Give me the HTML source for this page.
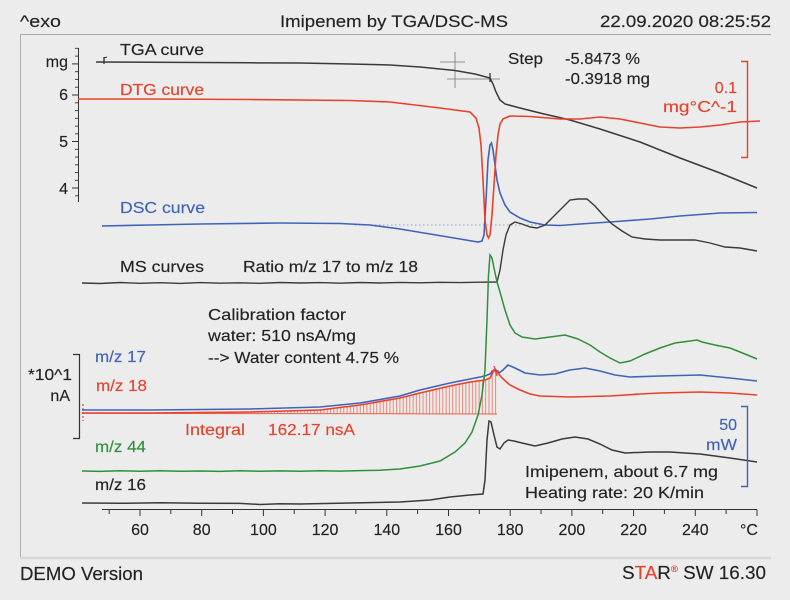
<!DOCTYPE html>
<html>
<head>
<meta charset="utf-8">
<style>
html,body{margin:0;padding:0;background:#ececec;}
svg{display:block;}
text{font-family:"Liberation Sans",Arial,sans-serif;fill:#222;stroke:#222;stroke-width:0.15px;}
</style>
</head>
<body>
<svg width="790" height="600" viewBox="0 0 790 600" xmlns="http://www.w3.org/2000/svg">
<defs>
<pattern id="hatch" patternUnits="userSpaceOnUse" width="3.3" height="20">
<line x1="0.6" y1="0" x2="0.6" y2="20" stroke="#e8604a" stroke-width="0.9" opacity="0.8"/>
</pattern>
</defs>
<rect width="790" height="600" fill="#ececec"/>

<!-- frame -->
<line x1="20" y1="34.5" x2="771" y2="34.5" stroke="#a6a6a6" stroke-width="1"/>
<line x1="20.5" y1="34" x2="20.5" y2="558" stroke="#b0b0b0" stroke-width="1"/>
<line x1="20" y1="558" x2="771" y2="558" stroke="#d6d6d6" stroke-width="2.5"/>

<!-- header -->
<text x="20" y="27" font-size="17" textLength="41" lengthAdjust="spacingAndGlyphs">^exo</text>
<text x="280" y="27" font-size="17" textLength="228" lengthAdjust="spacingAndGlyphs">Imipenem by TGA/DSC-MS</text>
<text x="600" y="27" font-size="17" textLength="171" lengthAdjust="spacingAndGlyphs">22.09.2020 08:25:52</text>

<!-- left mg axis -->
<g stroke="#333" stroke-width="1" fill="none">
<line x1="78.5" y1="48" x2="78.5" y2="202"/>
<line x1="72" y1="95" x2="78.5" y2="95"/>
<line x1="72" y1="141.5" x2="78.5" y2="141.5"/>
<line x1="72" y1="188" x2="78.5" y2="188"/>
<line x1="72" y1="63.9" x2="78.5" y2="63.9"/>
<g stroke-width="0.9">
<line x1="75" y1="48.3" x2="78.5" y2="48.3"/>
<line x1="75" y1="56.1" x2="78.5" y2="56.1"/>
<line x1="75" y1="71.7" x2="78.5" y2="71.7"/>
<line x1="75" y1="79.4" x2="78.5" y2="79.4"/>
<line x1="75" y1="87.2" x2="78.5" y2="87.2"/>
<line x1="75" y1="102.8" x2="78.5" y2="102.8"/>
<line x1="75" y1="110.6" x2="78.5" y2="110.6"/>
<line x1="75" y1="118.3" x2="78.5" y2="118.3"/>
<line x1="75" y1="126.1" x2="78.5" y2="126.1"/>
<line x1="75" y1="133.8" x2="78.5" y2="133.8"/>
<line x1="75" y1="149.3" x2="78.5" y2="149.3"/>
<line x1="75" y1="157.1" x2="78.5" y2="157.1"/>
<line x1="75" y1="164.8" x2="78.5" y2="164.8"/>
<line x1="75" y1="172.6" x2="78.5" y2="172.6"/>
<line x1="75" y1="180.3" x2="78.5" y2="180.3"/>
<line x1="75" y1="195.8" x2="78.5" y2="195.8"/>
</g>
</g>
<text x="68" y="67" font-size="16" text-anchor="end">mg</text>
<text x="68" y="100" font-size="16" text-anchor="end">6</text>
<text x="68" y="147" font-size="16" text-anchor="end">5</text>
<text x="68" y="194" font-size="16" text-anchor="end">4</text>

<!-- labels top -->
<text x="120" y="55" font-size="16" textLength="84" lengthAdjust="spacingAndGlyphs">TGA curve</text>
<text x="120" y="95" font-size="16" textLength="84" lengthAdjust="spacingAndGlyphs" style="fill:#e8412c;stroke:#e8412c">DTG curve</text>
<text x="508" y="64" font-size="16" textLength="35" lengthAdjust="spacingAndGlyphs">Step</text>
<text x="565" y="64" font-size="16" textLength="75" lengthAdjust="spacingAndGlyphs">-5.8473 %</text>
<text x="565" y="84" font-size="16" textLength="85" lengthAdjust="spacingAndGlyphs">-0.3918 mg</text>
<text x="737" y="93" font-size="16" text-anchor="end" style="fill:#e8412c;stroke:#e8412c">0.1</text>
<text x="663" y="112" font-size="16" textLength="74" lengthAdjust="spacingAndGlyphs" style="fill:#e8412c;stroke:#e8412c">mg°C^-1</text>

<!-- red scale bracket -->
<path d="M741,61.5 H747.5 V157.5 H741" stroke="#e8412c" stroke-width="1.4" fill="none"/>

<!-- TGA crosshairs -->
<g stroke="#555" stroke-width="0.8" fill="none" opacity="0.8">
<line x1="455" y1="52" x2="455" y2="88"/>
<line x1="440" y1="62" x2="465" y2="62"/>
<line x1="447" y1="79" x2="500" y2="79"/>
</g>

<!-- TGA curve -->
<polyline fill="none" stroke="#3a3a3a" stroke-width="1.5" points="96,62 150,62.3 200,62.5 250,62.8 300,63 350,64 390,65 420,67 455,70.5 475,74 490,78 493,84 496,92 500,100 505,104 520,108 540,113 570,120 600,129 640,142 680,158 720,173 757,188"/>
<line x1="104" y1="57" x2="104" y2="64" stroke="#333" stroke-width="1.3"/>
<line x1="104" y1="58" x2="107" y2="57" stroke="#333" stroke-width="1"/>
<line x1="490" y1="73" x2="490" y2="82" stroke="#333" stroke-width="1.3"/>

<!-- DSC baseline dotted -->
<line x1="355" y1="225" x2="560" y2="225" stroke="#8a9fd6" stroke-width="1" stroke-dasharray="1.5,2.5"/>

<!-- DSC blue -->
<polyline fill="none" stroke="#4062b8" stroke-width="1.6" points="102,226 150,225 200,224 280,223 340,223.5 370,225 400,229 430,234 460,239 478,242 482,241 484,235 486,200 488,160 490,145 491.5,143 493,150 495,165 497,180 500,193 505,205 510,212 520,218 530,222 545,225 560,225.5 580,224 610,222 650,219 680,216 720,213 757,212.5"/>

<!-- DTG red -->
<polyline fill="none" stroke="#e8412c" stroke-width="1.6" points="78,99 150,99 250,99.5 350,100.5 390,102 440,108 470,112 476,118 479,128 481,145 483,180 485,220 487,235 488.5,238 490,235 492,215 494,185 496,155 498,135 500,124 503,119 510,116 530,116.5 560,119 580,119 600,117 620,119 640,123 660,127 680,128 700,127 720,125 740,122 760,121"/>

<text x="120" y="213" font-size="16" textLength="85" lengthAdjust="spacingAndGlyphs" style="fill:#4062b8;stroke:#4062b8">DSC curve</text>
<text x="120" y="272" font-size="16" textLength="84" lengthAdjust="spacingAndGlyphs">MS curves</text>
<text x="243" y="272" font-size="16" textLength="175" lengthAdjust="spacingAndGlyphs">Ratio m/z 17 to m/z 18</text>

<!-- MS ratio black -->
<polyline fill="none" stroke="#3a3a3a" stroke-width="1.4" points="82,283 100,283.5 120,282.5 140,283.3 160,282.7 180,283.4 200,282.6 220,283.2 240,282.8 260,283.3 280,282.5 300,283 320,282.6 340,283.2 360,282.5 380,283 400,282.4 420,282.8 440,282.3 460,282.6 480,282.2 497,282 500,270 503,250 506,235 510,225 515,222 522,224 530,227 537,228 545,225 555,215 563,207 570,200 578,199 587,199 595,206 603,215 612,224 622,231 632,237 645,239 660,240 680,240 695,240 710,243 725,247 740,248 757,251"/>

<!-- calibration text -->
<text x="208" y="320" font-size="16" textLength="138" lengthAdjust="spacingAndGlyphs">Calibration factor</text>
<text x="208" y="341" font-size="16" textLength="148" lengthAdjust="spacingAndGlyphs">water: 510 nsA/mg</text>
<text x="208" y="363" font-size="16" textLength="191" lengthAdjust="spacingAndGlyphs">--&gt; Water content 4.75 %</text>

<!-- MS left bracket -->
<path d="M73,354.5 H79.5 V438.5 H73" stroke="#333" stroke-width="1.2" fill="none"/>
<text x="72" y="380" font-size="16" text-anchor="end" textLength="44" lengthAdjust="spacingAndGlyphs">*10^1</text>
<text x="70" y="401" font-size="16" text-anchor="end">nA</text>

<text x="95" y="362" font-size="16" textLength="51" lengthAdjust="spacingAndGlyphs" style="fill:#4062b8;stroke:#4062b8">m/z 17</text>
<text x="96" y="391" font-size="16" textLength="51" lengthAdjust="spacingAndGlyphs" style="fill:#e8412c;stroke:#e8412c">m/z 18</text>
<text x="185" y="435" font-size="16" textLength="60" lengthAdjust="spacingAndGlyphs" style="fill:#e8412c;stroke:#e8412c">Integral</text>
<text x="268" y="435" font-size="16" textLength="87" lengthAdjust="spacingAndGlyphs" style="fill:#e8412c;stroke:#e8412c">162.17 nsA</text>
<text x="95" y="452" font-size="16" textLength="51" lengthAdjust="spacingAndGlyphs" style="fill:#2f8f3c;stroke:#2f8f3c">m/z 44</text>
<text x="95" y="490" font-size="16" textLength="51" lengthAdjust="spacingAndGlyphs">m/z 16</text>

<!-- integral hatch -->
<polygon fill="url(#hatch)" stroke="none" points="82,413 150,413 250,412 320,410 360,405 400,398 420,393 450,386 470,382 485,380 490,378 494,370 497,372 497,414 82,413"/>
<line x1="82" y1="413.3" x2="497" y2="414" stroke="#e8604a" stroke-width="1"/>
<line x1="83" y1="404" x2="83" y2="421" stroke="#e8412c" stroke-width="1.2" stroke-dasharray="2,2"/>

<!-- m/z 17 blue -->
<polyline fill="none" stroke="#4062b8" stroke-width="1.6" points="82,410 150,410 250,409 320,407 360,403 400,396 420,390 450,383 470,379 485,376 490,374 495,369 499,373 503,370 508,365 515,368 525,373 540,375 555,374 570,370 585,368 600,371 615,375 630,377 660,376 700,375 730,378 757,381"/>

<!-- m/z 18 red -->
<polyline fill="none" stroke="#e8412c" stroke-width="1.6" points="82,413 150,413 250,412 320,410 360,405 400,398 420,393 450,386 470,382 485,380 490,378 494,370 497,372 502,378 510,385 520,390 530,394 540,396 570,397 610,396 640,394 660,393 700,392 730,393 757,395"/>
<path d="M494,366 L497,376 M491,371 L499,371" stroke="#e8412c" stroke-width="1.3" fill="none"/>

<!-- m/z 44 green -->
<polyline fill="none" stroke="#2f8f3c" stroke-width="1.5" points="82,471 100,471.4 120,470.7 140,471.3 160,470.8 180,471.2 200,471 220,471.4 240,470.8 260,471.2 280,470.9 300,471.2 320,470.7 340,471.1 360,470.6 380,470.2 400,469 420,466 440,461 455,452 465,443 472,432 478,415 482,395 485,370 487,320 488.5,275 490,255 492,258 494,268 497,282 500,292 505,310 510,325 515,333 522,337 535,339 550,337 565,335 578,339 590,345 600,352 610,358 620,363 630,361 645,354 660,348 675,343 690,341 697,340 702,342 715,345 730,348 745,354 757,359"/>

<!-- m/z 16 black -->
<polyline fill="none" stroke="#3a3a3a" stroke-width="1.5" points="82,503 120,503.3 160,502.8 200,503.2 240,503.4 260,504.5 280,503.8 300,504 350,503 400,502 430,500 450,497 470,495 483,494 485,480 487,440 489,421 491,422 494,435 497,447 500,449 504,443 508,440 514,441 522,443 535,446 548,443 562,439 575,437 588,439 600,444 612,450 625,453 650,452 670,452 700,454 730,458 757,462"/>

<!-- blue scale bracket -->
<path d="M741,406.5 H747.5 V486.5 H741" stroke="#4062b8" stroke-width="1.4" fill="none"/>
<text x="737" y="430" font-size="16" text-anchor="end" style="fill:#4062b8;stroke:#4062b8">50</text>
<text x="737" y="450" font-size="16" text-anchor="end" textLength="31" lengthAdjust="spacingAndGlyphs" style="fill:#4062b8;stroke:#4062b8">mW</text>

<text x="525" y="477" font-size="16" textLength="193" lengthAdjust="spacingAndGlyphs">Imipenem, about 6.7 mg</text>
<text x="525" y="498" font-size="16" textLength="179" lengthAdjust="spacingAndGlyphs">Heating rate: 20 K/min</text>

<!-- x axis -->
<g stroke="#333" stroke-width="1" fill="none">
<line x1="102" y1="509.5" x2="757" y2="509.5"/>
<line x1="109.2" y1="509.5" x2="109.2" y2="514"/>
<line x1="140" y1="509.5" x2="140" y2="516"/>
<line x1="170.8" y1="509.5" x2="170.8" y2="514"/>
<line x1="201.7" y1="509.5" x2="201.7" y2="516"/>
<line x1="232.5" y1="509.5" x2="232.5" y2="514"/>
<line x1="263.4" y1="509.5" x2="263.4" y2="516"/>
<line x1="294.2" y1="509.5" x2="294.2" y2="514"/>
<line x1="325.1" y1="509.5" x2="325.1" y2="516"/>
<line x1="355.9" y1="509.5" x2="355.9" y2="514"/>
<line x1="386.8" y1="509.5" x2="386.8" y2="516"/>
<line x1="417.6" y1="509.5" x2="417.6" y2="514"/>
<line x1="448.5" y1="509.5" x2="448.5" y2="516"/>
<line x1="479.3" y1="509.5" x2="479.3" y2="514"/>
<line x1="510.2" y1="509.5" x2="510.2" y2="516"/>
<line x1="541" y1="509.5" x2="541" y2="514"/>
<line x1="571.9" y1="509.5" x2="571.9" y2="516"/>
<line x1="602.7" y1="509.5" x2="602.7" y2="514"/>
<line x1="633.6" y1="509.5" x2="633.6" y2="516"/>
<line x1="664.4" y1="509.5" x2="664.4" y2="514"/>
<line x1="695.3" y1="509.5" x2="695.3" y2="516"/>
<line x1="726.1" y1="509.5" x2="726.1" y2="514"/>
<line x1="757" y1="509.5" x2="757" y2="516"/>
</g>
<g font-size="16" text-anchor="middle">
<text x="140" y="535">60</text>
<text x="201.7" y="535">80</text>
<text x="263.4" y="535">100</text>
<text x="325.1" y="535">120</text>
<text x="386.8" y="535">140</text>
<text x="448.5" y="535">160</text>
<text x="510.2" y="535">180</text>
<text x="571.9" y="535">200</text>
<text x="633.6" y="535">220</text>
<text x="695.3" y="535">240</text>
</g>
<text x="740" y="535" font-size="16">°C</text>

<!-- footer -->
<text x="20" y="580" font-size="18" textLength="123" lengthAdjust="spacingAndGlyphs">DEMO Version</text>
<text x="622" y="579" font-size="18" textLength="144" lengthAdjust="spacingAndGlyphs">S<tspan style="fill:#e8412c;stroke:#e8412c">TA</tspan>R<tspan style="fill:#e8412c;stroke:#e8412c" font-size="9" dy="-7">®</tspan><tspan dy="7"> SW 16.30</tspan></text>
</svg>
</body>
</html>
